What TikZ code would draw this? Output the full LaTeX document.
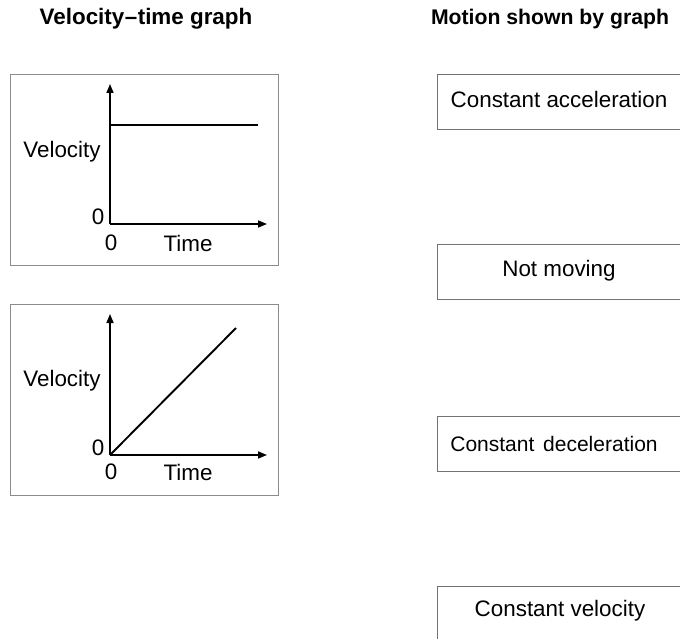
\documentclass[tikz,border=0pt]{standalone}
\usepackage{fontspec}
\setmainfont{Liberation Sans}
\usetikzlibrary{arrows.meta}
\tikzset{
  gbox/.style={draw=black!45, line width=1.3pt, rectangle, inner sep=0pt, anchor=north west},
  rbox/.style={draw=black!55, line width=1.3pt, rectangle, inner sep=0pt, anchor=north west},
  lbl/.style={font=\fontsize{22.4}{26}\selectfont, inner sep=0pt, text=black},
  ttl/.style={font=\fontsize{22.4}{26}\selectfont\bfseries, inner sep=0pt, text=black},
  axis/.style={line width=1.6pt, -{Triangle[length=9pt,width=7pt]}},
  curve/.style={line width=1.9pt},
}
\begin{document}
\begin{tikzpicture}[x=1pt,y=-1pt]
\useasboundingbox (0,0) rectangle (680,639);
% titles
\node[ttl] (t1) at (146,19) {Velocity\kern0.5pt--\kern0.5pt time graph};
\node[ttl, font=\fontsize{21.2}{25}\selectfont\bfseries] (t2) at (550,19) {Motion shown by graph};
% graph 1
\node[gbox, minimum width=268pt, minimum height=191pt] (g1) at (10,74) {};
\coordinate (o1) at (110,224);
\coordinate (y1) at (110,84);
\coordinate (x1) at (267,224);
\draw[axis] (o1) -- (y1);
\draw[axis] (o1) -- (x1);
\coordinate (h1a) at (110,125);
\coordinate (h1b) at (258,125);
\draw[curve] (h1a) -- (h1b);
\node[lbl] (v1) at (62,152) {Velocity};
\node[lbl] (z1a) at (98,217) {0};
\node[lbl] (z1b) at (111,243) {0};
\node[lbl] (tm1) at (188,243) {Time};
% graph 2
\node[gbox, minimum width=268pt, minimum height=191pt] (g2) at (10,304) {};
\coordinate (o2) at (110,455);
\coordinate (y2) at (110,314);
\coordinate (x2) at (267,455);
\draw[axis] (o2) -- (y2);
\draw[axis] (o2) -- (x2);
\coordinate (d2) at (236,328);
\draw[curve] (o2) -- (d2);
\node[lbl] (v2) at (62,381) {Velocity};
\node[lbl] (z2a) at (98,448) {0};
\node[lbl] (z2b) at (111,472) {0};
\node[lbl] (tm2) at (188,472) {Time};
% motion boxes
\node[rbox, minimum width=260pt, minimum height=55pt] (m1) at (437,74) {};
\node[lbl] (m1t) at (559,99) {Constant acceleration};
\node[rbox, minimum width=260pt, minimum height=55pt] (m2) at (437,244) {};
\node[lbl] (m2t) at (559,271) {Not moving};
\node[rbox, minimum width=260pt, minimum height=55pt] (m3) at (437,416) {};
\node[lbl, font=\fontsize{21}{25}\selectfont] (m3t) at (554,444) {Constant\hspace{3pt} deceleration};
\node[rbox, minimum width=260pt, minimum height=60pt] (m4) at (437,586) {};
\node[lbl] (m4t) at (560,611) {Constant velocity};
\end{tikzpicture}
\end{document}
